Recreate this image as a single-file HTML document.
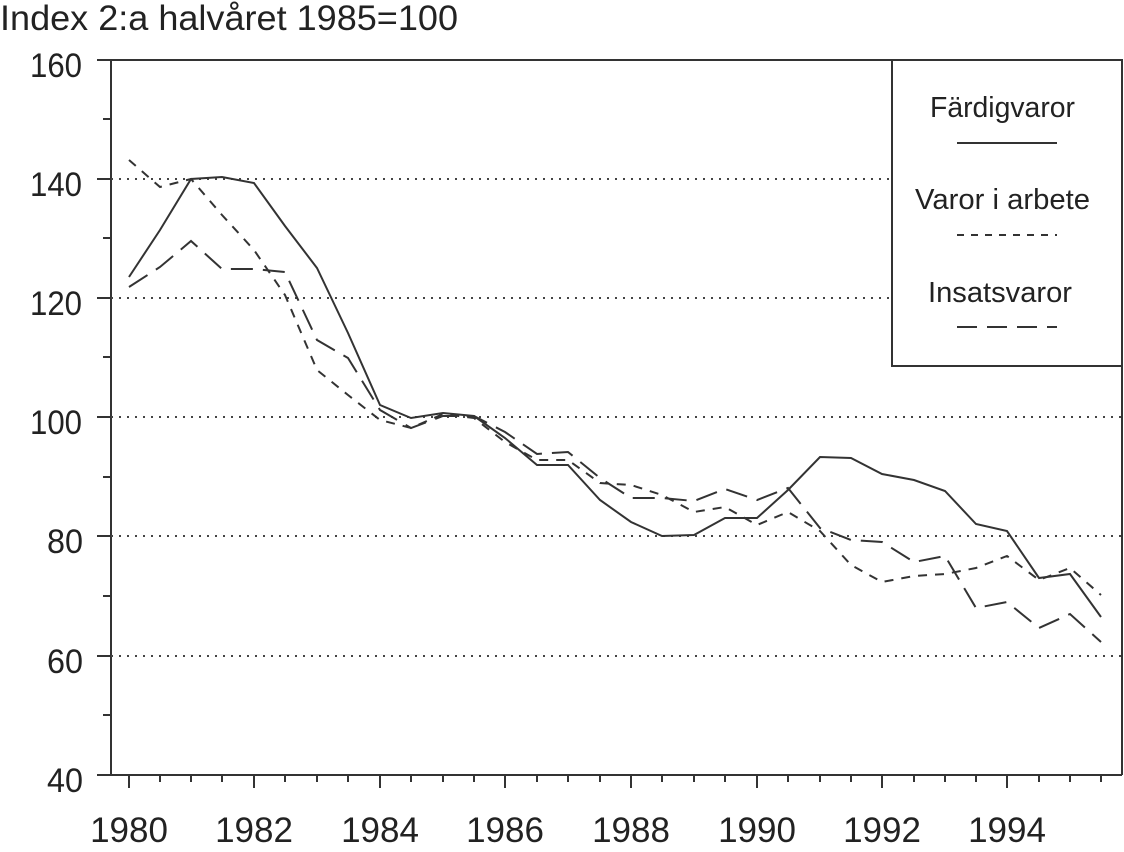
<!DOCTYPE html><html><head><style>body{margin:0;background:#fff}</style></head><body>
<svg width="1124" height="847" xmlns="http://www.w3.org/2000/svg" font-family="Liberation Sans, sans-serif" fill="#222">
<rect width="1124" height="847" fill="#fff"/>
<text x="0" y="30" font-size="35" textLength="458" lengthAdjust="spacingAndGlyphs">Index 2:a halvåret 1985=100</text>
<g stroke="#333" stroke-width="2" fill="none">
<line x1="97" y1="60" x2="1122" y2="60"/>
<line x1="111" y1="60" x2="111" y2="775"/>
<line x1="1122" y1="60" x2="1122" y2="775"/>
<line x1="97" y1="775" x2="1122" y2="775"/>
</g>
<g stroke="#444" stroke-width="2" stroke-dasharray="2,6">
<line x1="111" y1="179" x2="1122" y2="179"/><line x1="111" y1="298" x2="1122" y2="298"/>
<line x1="111" y1="417" x2="1122" y2="417"/><line x1="111" y1="536" x2="1122" y2="536"/>
<line x1="111" y1="656" x2="1122" y2="656"/>
</g>
<g stroke="#333" stroke-width="2">
<line x1="103" y1="119" x2="111" y2="119"/>
<line x1="97" y1="179" x2="111" y2="179"/><line x1="103" y1="238" x2="111" y2="238"/>
<line x1="97" y1="298" x2="111" y2="298"/><line x1="103" y1="357" x2="111" y2="357"/>
<line x1="97" y1="417" x2="111" y2="417"/><line x1="103" y1="477" x2="111" y2="477"/>
<line x1="97" y1="536" x2="111" y2="536"/><line x1="103" y1="596" x2="111" y2="596"/>
<line x1="97" y1="656" x2="111" y2="656"/><line x1="103" y1="715" x2="111" y2="715"/>
<line x1="129" y1="775" x2="129" y2="788"/><line x1="160" y1="775" x2="160" y2="782"/>
<line x1="191" y1="775" x2="191" y2="782"/><line x1="222" y1="775" x2="222" y2="782"/>
<line x1="254" y1="775" x2="254" y2="788"/><line x1="285" y1="775" x2="285" y2="782"/>
<line x1="317" y1="775" x2="317" y2="782"/><line x1="348" y1="775" x2="348" y2="782"/>
<line x1="380" y1="775" x2="380" y2="788"/><line x1="411" y1="775" x2="411" y2="782"/>
<line x1="443" y1="775" x2="443" y2="782"/><line x1="474" y1="775" x2="474" y2="782"/>
<line x1="505" y1="775" x2="505" y2="788"/><line x1="537" y1="775" x2="537" y2="782"/>
<line x1="568" y1="775" x2="568" y2="782"/><line x1="600" y1="775" x2="600" y2="782"/>
<line x1="631" y1="775" x2="631" y2="788"/><line x1="662" y1="775" x2="662" y2="782"/>
<line x1="694" y1="775" x2="694" y2="782"/><line x1="725" y1="775" x2="725" y2="782"/>
<line x1="757" y1="775" x2="757" y2="788"/><line x1="788" y1="775" x2="788" y2="782"/>
<line x1="820" y1="775" x2="820" y2="782"/><line x1="851" y1="775" x2="851" y2="782"/>
<line x1="882" y1="775" x2="882" y2="788"/><line x1="914" y1="775" x2="914" y2="782"/>
<line x1="945" y1="775" x2="945" y2="782"/><line x1="976" y1="775" x2="976" y2="782"/>
<line x1="1007" y1="775" x2="1007" y2="788"/><line x1="1039" y1="775" x2="1039" y2="782"/>
<line x1="1070" y1="775" x2="1070" y2="782"/><line x1="1101" y1="775" x2="1101" y2="782"/>
</g>
<g font-size="34">
<text x="30" y="77" textLength="52" lengthAdjust="spacingAndGlyphs">160</text>
<text x="30" y="196" textLength="52" lengthAdjust="spacingAndGlyphs">140</text>
<text x="30" y="315" textLength="52" lengthAdjust="spacingAndGlyphs">120</text>
<text x="30" y="434" textLength="52" lengthAdjust="spacingAndGlyphs">100</text>
<text x="47" y="553" textLength="36" lengthAdjust="spacingAndGlyphs">80</text>
<text x="47" y="673" textLength="36" lengthAdjust="spacingAndGlyphs">60</text>
<text x="47" y="792" textLength="36" lengthAdjust="spacingAndGlyphs">40</text>
</g>
<g font-size="35" text-anchor="middle">
<text x="129" y="842">1980</text><text x="254" y="842">1982</text><text x="380" y="842">1984</text>
<text x="505" y="842">1986</text><text x="631" y="842">1988</text><text x="757" y="842">1990</text>
<text x="882" y="842">1992</text><text x="1007" y="842">1994</text>
</g>
<g fill="none" stroke="#333" stroke-width="2">
<polyline points="129,277 160,230 191,179 222,177 254,183 285,226 317,268 348,333 380,405 411,418 443,413 474,416 505,438 537,465 568,465 600,500 631,522 662,536 694,535 725,518 757,518 788,490 820,457 851,458 882,474 914,480 945,491 976,524 1007,531 1039,578 1070,574 1101,617"/>
<polyline stroke-dasharray="9,8" points="129,160 160,187 191,179 222,215 254,250 285,295 317,370 348,395 380,420 411,428 443,414 474,418 505,442 537,460 568,460 600,483 631,485 662,495 694,512 725,507 757,525 788,512 820,531 851,565 882,582 914,576 945,574 976,568 1007,556 1039,580 1070,568 1101,595"/>
<polyline stroke-dasharray="22,10" points="129,287 160,267 191,241 222,269 254,269 285,272 317,340 348,358 380,410 411,428 443,416 474,416 505,432 537,454 568,452 600,478 631,498 662,498 694,501 725,489 757,500 788,488 820,528 851,540 882,542 914,562 945,556 976,608 1007,602 1039,628 1070,614 1101,642"/>
</g>
<rect x="892" y="60" width="230" height="306" fill="#fff" stroke="#333" stroke-width="2"/>
<g font-size="29">
<text x="930" y="117" textLength="145" lengthAdjust="spacingAndGlyphs">Färdigvaror</text>
<text x="915" y="209" textLength="175" lengthAdjust="spacingAndGlyphs">Varor i arbete</text>
<text x="928" y="302" textLength="144" lengthAdjust="spacingAndGlyphs">Insatsvaror</text>
</g>
<g stroke="#333" stroke-width="2">
<line x1="957" y1="143" x2="1057" y2="143"/>
<line x1="957" y1="235" x2="1057" y2="235" stroke-dasharray="7,7"/>
<line x1="957" y1="327" x2="1057" y2="327" stroke-dasharray="20,10"/>
</g>
</svg>
</body></html>
